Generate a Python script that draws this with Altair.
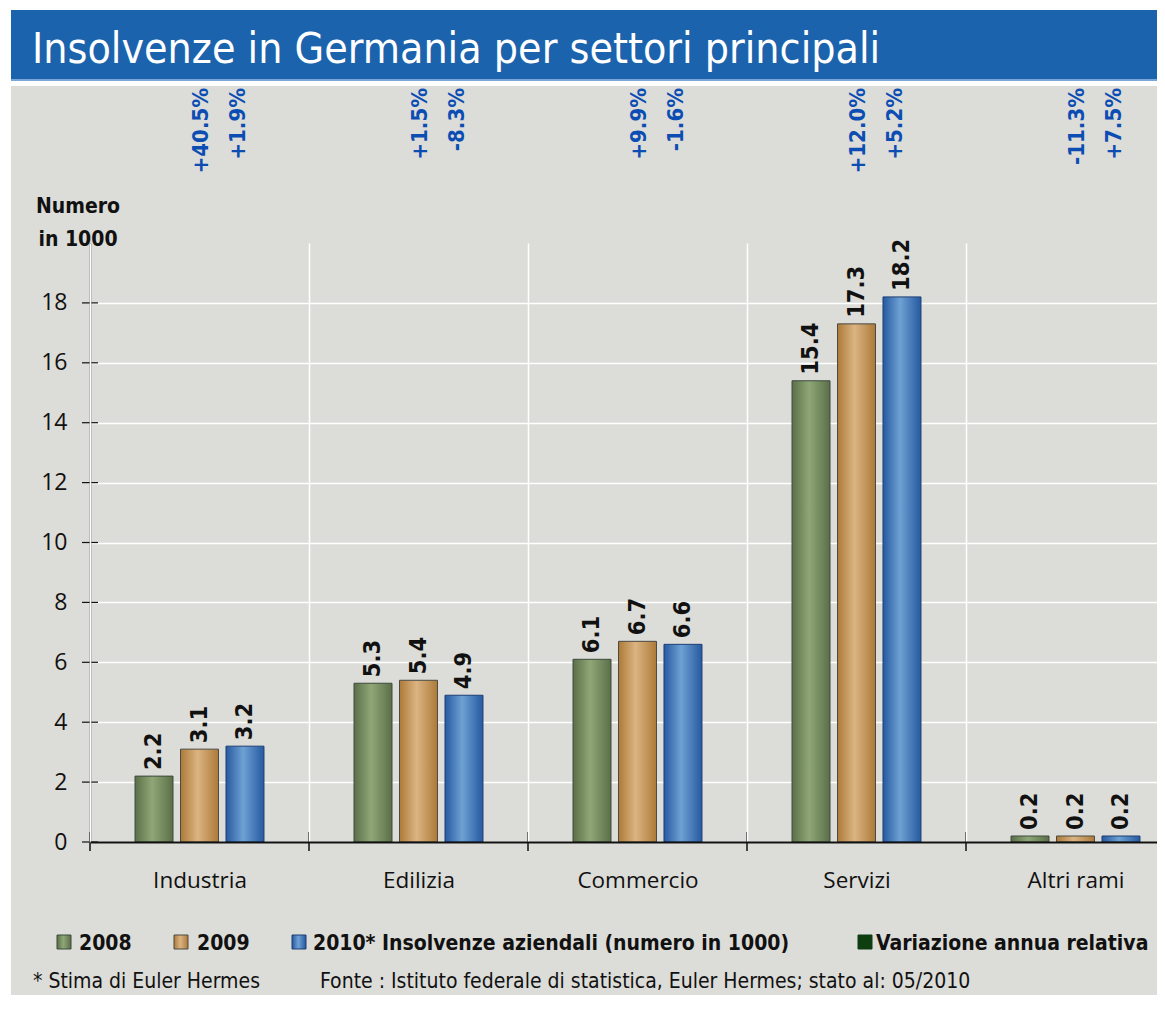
import altair as alt
import pandas as pd

# ---------------- data ----------------
categories = ["Industria", "Edilizia", "Commercio", "Servizi", "Altri rami"]
years = ["2008", "2009", "2010"]
values_2008 = [2.2, 5.3, 6.1, 15.4, 0.2]
values_2009 = [3.1, 5.4, 6.7, 17.3, 0.2]
values_2010 = [3.2, 4.9, 6.6, 18.2, 0.2]
change_2009 = ["+40.5%", "+1.5%", "+9.9%", "+12.0%", "-11.3%"]
change_2010 = ["+1.9%", "-8.3%", "-1.6%", "+5.2%", "+7.5%"]
y_ticks = [0, 2, 4, 6, 8, 10, 12, 14, 16, 18]
title_text = "Insolvenze in Germania per settori principali"
y_title_lines = ["Numero", "in 1000"]
legend_labels = ["2008", "2009", "2010* Insolvenze aziendali (numero in 1000)",
                 "Variazione annua relativa"]
footnote_left = "* Stima di Euler Hermes"
footnote_right = "Fonte : Istituto federale di statistica, Euler Hermes; stato al: 05/2010"

rows = []
for y, vals in zip(years, [values_2008, values_2009, values_2010]):
    for c, v in zip(categories, vals):
        rows.append({"cat": c, "year": y, "value": v, "label": f"{v:.1f}"})
bars_df = pd.DataFrame(rows)
pct_2009_df = pd.DataFrame({"cat": categories, "year": "2009", "text": change_2009})
pct_2010_df = pd.DataFrame({"cat": categories, "year": "2010", "text": change_2010})
ticks_df = pd.DataFrame({"value": y_ticks})
cats_df = pd.DataFrame({"cat": categories})
one = pd.DataFrame({"a": [0]})

# ---------------- styles ----------------
NARROW = "DejaVu Sans Condensed, Liberation Sans Narrow, Roboto Condensed, sans-serif"
REG = "Open Sans, Lato, sans-serif"
GRAY = "#dcdcd8"
BAND = "#1b63ad"
PCT_BLUE = "#0b4db3"


def grad(dark, light):
    return alt.Gradient(
        gradient="linear",
        stops=[alt.GradientStop(color=dark, offset=0),
               alt.GradientStop(color=light, offset=0.45),
               alt.GradientStop(color=dark, offset=1)],
        x1=0, x2=1, y1=0, y2=0)


year_style = {
    "2008": (grad("#5b6f48", "#8fa777"), "#3d4a3f"),
    "2009": (grad("#ad7a38", "#dbb482"), "#4a4a45"),
    "2010": (grad("#2659a0", "#6ea1d3"), "#1d3f75"),
}

x_scale = alt.Scale(domain=categories, range=[0, 1095], paddingInner=0, paddingOuter=0)
x_axis = alt.Axis(title=None, grid=True, gridColor="white", gridWidth=1.5,
                  tickBand="extent", ticks=False, domainColor="#111",
                  domainWidth=2, labelAngle=0, labelFont=REG, labelFontSize=22.5,
                  labelColor="#111", labelPadding=27, zindex=1)
X = alt.X("cat:N", scale=x_scale, axis=x_axis)
XOFF = alt.XOffset("year:N", scale=alt.Scale(domain=years, paddingInner=0.165, paddingOuter=0.99))
y_scale = alt.Scale(domain=[0, 20], nice=False)
y_axis = alt.Axis(title=None, values=y_ticks, grid=True, gridColor="white",
                  gridWidth=1.5, ticks=False, domainColor="#111", domainWidth=1.5,
                  labelFont=REG, labelFontSize=23, labelColor="#111",
                  labelPadding=23)
Y = alt.Y("value:Q", scale=y_scale, axis=y_axis)

layers = []

# frame: white strips around the gray panel, blue title band
for x0, x1, y0, y1, col in [
        (-82, 1100, -235, -233, "white"),      # top white strip
        (-82, -79, -235, 800, "white"),        # left white strip
        (-79, 1100, -233, -164, BAND),         # title band
        (-79, 1100, -164, -162, "#7aa7d8"),    # light line under band
        (-79, 1100, -162, -157, "white")]:     # gap above gray panel
    layers.append(alt.Chart(one).mark_rect(color=col).encode(
        x=alt.value(x0), x2=alt.value(x1), y=alt.value(y0), y2=alt.value(y1)))

# title
layers.append(alt.Chart(one).mark_text(
    align="left", baseline="alphabetic", font=NARROW, fontSize=42.5, color="white").encode(
    x=alt.value(-58), y=alt.value(-180), text=alt.value(title_text)))

# bars
for yr in years:
    fill, stroke = year_style[yr]
    layers.append(alt.Chart(bars_df).transform_filter(alt.datum.year == yr).mark_bar(
        color=fill, stroke=stroke, strokeWidth=1).encode(x=X, xOffset=XOFF, y=Y))

# value labels
layers.append(alt.Chart(bars_df).mark_text(
    angle=270, align="left", baseline="middle", dx=6, font=NARROW, fontWeight="bold",
    fontSize=23.5, color="#111").encode(x=X, xOffset=XOFF, y=Y, text="label:N"))

# percentage changes
for df_, shift in [(pct_2009_df, 1), (pct_2010_df, -7)]:
    layers.append(alt.Chart(df_).mark_text(
        angle=270, align="right", baseline="middle", dy=shift, font=NARROW,
        fontWeight="bold", fontSize=22, color=PCT_BLUE).encode(
        x=X, xOffset=XOFF, y=alt.value(-155), text="text:N"))

# crossing tick marks
layers.append(alt.Chart(ticks_df).mark_rule(color="#111", strokeWidth=1.2).encode(
    y=Y, x=alt.value(-8), x2=alt.value(8)))
layers.append(alt.Chart(cats_df).mark_rule(color="#111", strokeWidth=1.5).encode(
    x=alt.X("cat:N", bandPosition=0, scale=x_scale, axis=x_axis),
    y=alt.value(589), y2=alt.value(608)))

# y axis title
for txt, yy in zip(y_title_lines, [-30, 3]):
    layers.append(alt.Chart(one).mark_text(
        align="center", baseline="alphabetic", font=NARROW, fontWeight="bold",
        fontSize=21, color="#111").encode(x=alt.value(-12), y=alt.value(yy),
                                          text=alt.value(txt)))

# legend
swatch_x = [-33, 84, 202, 768]
text_x = [-11, 107, 223, 786]
swatch_fill = [year_style["2008"][0], year_style["2009"][0], year_style["2010"][0], "#0e3d10"]
swatch_stroke = [year_style["2008"][1], year_style["2009"][1], year_style["2010"][1], "#0e3d10"]
for lab, sx, tx, sf, ss in zip(legend_labels, swatch_x, text_x, swatch_fill, swatch_stroke):
    layers.append(alt.Chart(one).mark_rect(color=sf, stroke=ss, strokeWidth=1).encode(
        x=alt.value(sx), x2=alt.value(sx + 14), y=alt.value(692), y2=alt.value(706)))
    layers.append(alt.Chart(one).mark_text(
        align="left", baseline="alphabetic", font=NARROW, fontWeight="bold",
        fontSize=21, color="#111").encode(x=alt.value(tx), y=alt.value(707),
                                          text=alt.value(lab)))

# footnotes
for txt, fx in [(footnote_left, -57), (footnote_right, 230)]:
    layers.append(alt.Chart(one).mark_text(
        align="left", baseline="alphabetic", font=NARROW, fontSize=21,
        color="#111").encode(x=alt.value(fx), y=alt.value(745), text=alt.value(txt)))

chart = alt.layer(*layers).properties(
    width=1067, height=599,
    autosize=alt.AutoSizeParams(type="none"),
    padding={"left": 82, "top": 235, "right": 0, "bottom": 153},
    background=GRAY,
).configure_view(stroke=None, fill=None)

chart.save("out.html", embed_options={"renderer": "svg", "actions": False})
